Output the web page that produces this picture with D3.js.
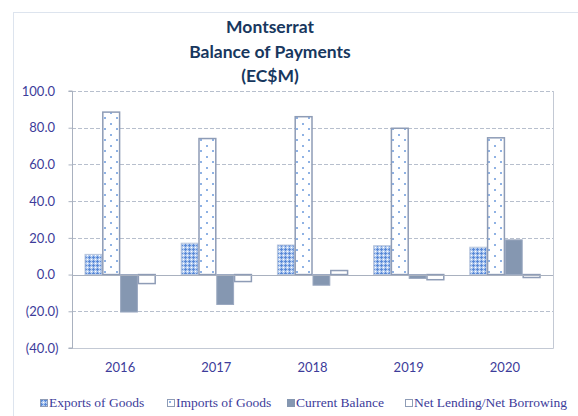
<!doctype html>
<html>
<head>
<meta charset="utf-8"/>
<title>Montserrat Balance of Payments</title>
<script src="https://d3js.org/d3.v7.min.js"></script>
<style>
body{margin:0;background:#fff;}
svg{display:block;}
</style>
</head>
<body>
<script>
// data (EC$M)
var years = ["2016", "2017", "2018", "2019", "2020"];
var series = ["Exports of Goods", "Imports of Goods", "Current Balance", "Net Lending/Net Borrowing"];
var exportsGoods = [11.0, 17.1, 16.1, 15.7, 14.9];
var importsGoods = [88.5, 74.1, 86.0, 79.7, 74.5];
var currentBalance = [-20.4, -16.3, -5.8, -2.1, 18.9];
var netLending = [-4.9, -3.8, 2.2, -2.8, -1.6];
var yTicks = [-40, -20, 0, 20, 40, 60, 80, 100];

var values = [exportsGoods, importsGoods, currentBalance, netLending];

var W = 578, H = 416;
var pLeft = 72, pRight = 553, pTop = 91, pBottom = 348;
var txt = "#3d3c9a";
var edge = "#8e9cb6";

var svg = d3.select("body").append("svg")
  .attr("width", W).attr("height", H);

// patterns
var defs = svg.append("defs");
var pe = defs.append("pattern").attr("id", "pExp")
  .attr("patternUnits", "userSpaceOnUse").attr("width", 4).attr("height", 4);
pe.append("rect").attr("width", 4).attr("height", 4).attr("fill", "#b3cbef");
pe.append("rect").attr("x", 1).attr("y", 0).attr("width", 1).attr("height", 3).attr("fill", "#5a8ad8");
pe.append("rect").attr("x", 0).attr("y", 1).attr("width", 3).attr("height", 1).attr("fill", "#5a8ad8");
pe.append("rect").attr("x", 3).attr("y", 3).attr("width", 1).attr("height", 1).attr("fill", "#ffffff");

var pi = defs.append("pattern").attr("id", "pImp")
  .attr("patternUnits", "userSpaceOnUse").attr("width", 12).attr("height", 11);
pi.append("rect").attr("width", 12).attr("height", 11).attr("fill", "#ffffff");
pi.append("rect").attr("x", 2).attr("y", 2).attr("width", 2).attr("height", 2).attr("fill", "#8fb2e4");
pi.append("rect").attr("x", 8).attr("y", 7).attr("width", 2).attr("height", 2).attr("fill", "#8fb2e4");

var fills = ["url(#pExp)", "url(#pImp)", "#8597b1", "#ffffff"];
var strokes = ["#b9c6dc", edge, "#9aa8c0", edge];

// outer chart frame
svg.append("rect")
  .attr("x", 13.5).attr("y", 12.5).attr("width", 700).attr("height", 500)
  .attr("fill", "none").attr("stroke", "#dde4ee");

var x = d3.scaleBand().domain(years).range([pLeft, pRight])
  .paddingInner(0.26).paddingOuter(0.13);
var xs = d3.scaleBand().domain(d3.range(series.length)).range([0, x.bandwidth()]);
var y = d3.scaleLinear().domain([-40, 100]).range([pBottom, pTop]);

// gridlines
svg.append("g").selectAll("line")
  .data(yTicks.filter(function(d){ return d != 0 && d != -40; }))
  .enter().append("line")
  .attr("x1", pLeft).attr("x2", pRight)
  .attr("y1", function(d){ return Math.round(y(d)) + 0.5; })
  .attr("y2", function(d){ return Math.round(y(d)) + 0.5; })
  .attr("stroke", "#b7bfcd").attr("stroke-dasharray", "4,2");

// plot border right / bottom
svg.append("path")
  .attr("d", "M" + (pRight + 0.5) + "," + pTop + "V" + (pBottom + 0.5) + "H" + pLeft)
  .attr("fill", "none").attr("stroke", "#c3c9d4");

// bars
var groups = svg.append("g").selectAll("g")
  .data(series).enter().append("g");

groups.each(function(s, si){
  d3.select(this).selectAll("rect")
    .data(values[si]).enter().append("rect")
    .attr("x", function(d, i){ return x(years[i]) + xs(si) + 0.5; })
    .attr("width", xs.bandwidth() - 1)
    .attr("y", function(d){ return y(Math.max(0, d)); })
    .attr("height", function(d){ return Math.abs(y(d) - y(0)); })
    .attr("fill", fills[si])
    .attr("stroke", strokes[si])
    .attr("stroke-width", si == 0 || si == 2 ? 1 : 1.5);
});

// zero line
svg.append("line")
  .attr("x1", pLeft).attr("x2", pRight)
  .attr("y1", Math.round(y(0)) + 0.5).attr("y2", Math.round(y(0)) + 0.5)
  .attr("stroke", "#a9b1bf").attr("stroke-width", 1.2);

// y axis
var yAxis = d3.axisLeft(y).tickValues(yTicks).tickSize(4).tickPadding(10)
  .tickFormat(function(d){
    var s = d3.format(".1f")(Math.abs(d));
    return d < 0 ? "(" + s + ")" : s;
  });
var ga = svg.append("g").attr("transform", "translate(" + (pLeft + 0.5) + ",0)").call(yAxis);
ga.select(".domain").attr("stroke", "#a9b1bf").attr("d", "M-4," + pTop + "H0V" + pBottom + "H-4");
ga.selectAll(".tick line").attr("stroke", "#a9b1bf");
ga.selectAll(".tick text")
  .attr("fill", txt).attr("font-family", "Lato").attr("font-size", 13)
  .attr("dx", function(d){ return d < 0 ? 0 : -3.5; });

// x labels
var xAxis = d3.axisBottom(x).tickSize(0).tickPadding(0);
var gx = svg.append("g").attr("transform", "translate(0," + 363 + ")").call(xAxis);
gx.select(".domain").remove();
gx.selectAll(".tick text")
  .attr("fill", txt).attr("font-family", "Lato").attr("font-size", 13);

// title
var title = ["Montserrat", "Balance of Payments", "(EC$M)"];
svg.append("g").selectAll("text")
  .data(title).enter().append("text")
  .attr("x", 270).attr("y", function(d, i){ return 33 + i * 24.5; })
  .attr("text-anchor", "middle")
  .attr("font-family", "Lato").attr("font-weight", "bold").attr("font-size", 17.5)
  .attr("fill", "#17375e")
  .text(function(d){ return d; });

// legend
var legX = [40, 167, 287, 405];
var leg = svg.append("g").selectAll("g")
  .data(series).enter().append("g")
  .attr("transform", function(d, i){ return "translate(" + legX[i] + ",399)"; });
leg.append("rect")
  .attr("x", 0.5).attr("y", 0.5).attr("width", 7).attr("height", 7)
  .attr("fill", function(d, i){ return fills[i]; })
  .attr("stroke", function(d, i){ return i == 2 ? "#8597b1" : edge; });
leg.append("text")
  .attr("x", 9).attr("y", 8)
  .attr("font-family", "Liberation Serif").attr("font-size", 13.5)
  .attr("fill", txt)
  .text(function(d){ return d; });
</script>
</body>
</html>
